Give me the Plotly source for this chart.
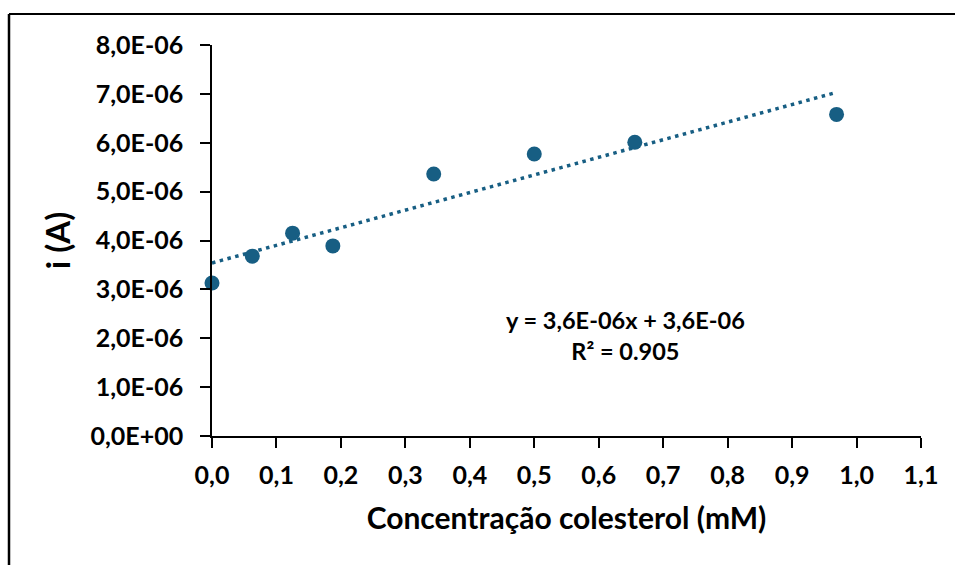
import numpy as np
import plotly.graph_objects as go

# Data
conc_mM = [0.0, 0.0625, 0.125, 0.1875, 0.344, 0.5, 0.656, 0.969]
current_A = [3.13e-6, 3.68e-6, 4.15e-6, 3.89e-6, 5.36e-6, 5.77e-6, 6.01e-6, 6.58e-6]

x_tickvals = [0.0, 0.1, 0.2, 0.3, 0.4, 0.5, 0.6, 0.7, 0.8, 0.9, 1.0, 1.1]
x_ticktext = ["0,0", "0,1", "0,2", "0,3", "0,4", "0,5", "0,6", "0,7", "0,8", "0,9", "1,0", "1,1"]
y_tickvals = [0, 1e-6, 2e-6, 3e-6, 4e-6, 5e-6, 6e-6, 7e-6, 8e-6]
y_ticktext = ["0,0E+00", "1,0E-06", "2,0E-06", "3,0E-06", "4,0E-06",
              "5,0E-06", "6,0E-06", "7,0E-06", "8,0E-06"]

eq_text = "y = 3,6E-06x + 3,6E-06<br>R² = 0.905"

# Linear trendline (least squares, like spreadsheet trendline)
slope, intercept = np.polyfit(conc_mM, current_A, 1)
trend_x = [min(conc_mM), max(conc_mM)]
trend_y = [slope * v + intercept for v in trend_x]

color = "#175E83"
FONT = "Lato"

fig = go.Figure()
fig.add_trace(go.Scatter(
    x=trend_x, y=trend_y, mode="lines",
    line=dict(color=color, width=3.5, dash="3.5px,4.5px"),
    hoverinfo="skip", showlegend=False, cliponaxis=False,
))
fig.add_trace(go.Scatter(
    x=conc_mM, y=current_A, mode="markers",
    marker=dict(color=color, size=15, line=dict(width=0)),
    showlegend=False, cliponaxis=False,
))

W, H = 955, 565
L, R, T, B = 212, 34, 45, 129
pw, ph = W - L - R, H - T - B

def px_to_paper_x(px):
    return (px - L) / pw

def px_to_paper_y(py):
    return (H - B - py) / ph

fig.update_layout(
    width=W, height=H,
    margin=dict(l=L, r=R, t=T, b=B),
    paper_bgcolor="white", plot_bgcolor="white",
    font=dict(family=FONT, color="black", size=25),
    xaxis=dict(
        range=[0, 1.1], tickvals=x_tickvals, ticktext=x_ticktext,
        showgrid=False, zeroline=False, showline=True, linecolor="black", linewidth=1.5,
        ticks="outside", ticklen=10, tickwidth=1.5, tickcolor="black",
        ticklabelstandoff=6,
        tickfont=dict(family=FONT, size=25, color="black", weight="bold"),
        title=dict(text="<b>Concentração colesterol (mM)</b>",
                   font=dict(family=FONT, size=30, color="black"), standoff=20),
    ),
    yaxis=dict(
        range=[0, 8e-6], tickvals=y_tickvals, ticktext=y_ticktext,
        showgrid=False, zeroline=False, showline=True, linecolor="black", linewidth=1.5,
        ticks="outside", ticklen=10, tickwidth=1.5, tickcolor="black",
        ticklabelstandoff=12,
        tickfont=dict(family=FONT, size=25, color="black", weight="bold"),
        title=dict(text="<b>i (A)</b>", font=dict(family=FONT, size=33, color="black"),
                   standoff=10),
    ),
    annotations=[dict(
        x=0.642, y=2.05e-6, xref="x", yref="y", text="<b>" + eq_text + "</b>",
        showarrow=False, align="center",
        font=dict(family=FONT, size=23.5, color="black"),
    )],
    shapes=[
        dict(type="line", xref="paper", yref="paper",
             x0=px_to_paper_x(9), x1=px_to_paper_x(956),
             y0=px_to_paper_y(14), y1=px_to_paper_y(14),
             line=dict(color="black", width=2)),
        dict(type="line", xref="paper", yref="paper",
             x0=px_to_paper_x(9), x1=px_to_paper_x(9),
             y0=px_to_paper_y(14), y1=px_to_paper_y(566),
             line=dict(color="black", width=2.5)),
    ],
)

fig.write_html("out.html")
